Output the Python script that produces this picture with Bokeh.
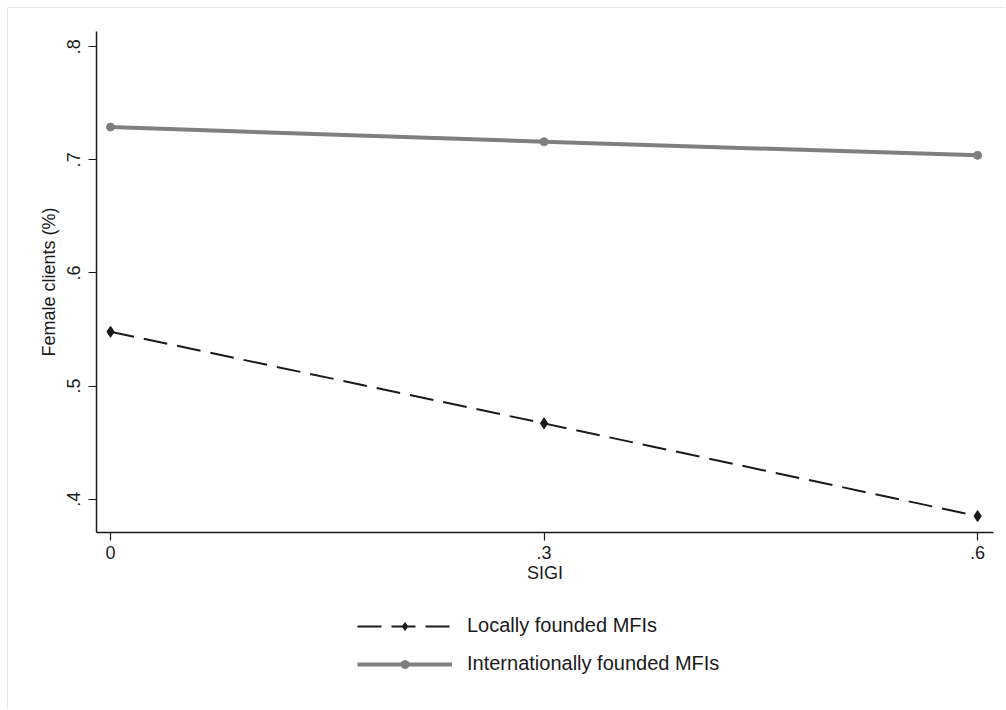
from bokeh.plotting import figure
from bokeh.layouts import column
from bokeh.models import (FixedTicker, CustomJSTickFormatter, Legend, LegendItem, Range1d)
from bokeh.embed import file_html
from bokeh.resources import INLINE

# Data
sigi = [0.0, 0.3, 0.6]
local_vals = [0.548, 0.467, 0.385]
intl_vals = [0.729, 0.716, 0.704]
x_ticks = [0.0, 0.3, 0.6]
y_ticks = [0.4, 0.5, 0.6, 0.7, 0.8]
series_names = ["Locally founded MFIs", "Internationally founded MFIs"]

FONT = "Liberation Sans"
FS = "18px"
LOCAL_STYLE = dict(line_color="#1a1a1a", line_width=2, line_dash="24 10")
LOCAL_MARK = dict(marker="diamond", size=11, color="#1a1a1a")
INTL_STYLE = dict(line_color="#7f7f7f", line_width=4)
INTL_MARK = dict(marker="circle", size=8, color="#7f7f7f")

p = figure(width=998, height=590, output_backend="svg", toolbar_location=None,
           x_range=Range1d(-0.0097, 0.611), y_range=Range1d(0.3705, 0.8135),
           min_border_left=88, min_border_top=23, min_border_right=13,
           min_border_bottom=66)
p.outline_line_color = None
p.xgrid.visible = False
p.ygrid.visible = False

fmt = CustomJSTickFormatter(code="""
var s = (Math.round(tick*10)/10).toString();
return s.replace(/^0\\./, '.');
""")

for ax in (p.xaxis[0], p.yaxis[0]):
    ax.formatter = fmt
    ax.axis_line_color = "#1a1a1a"
    ax.axis_line_width = 1.5
    ax.major_tick_line_color = "#1a1a1a"
    ax.major_tick_line_width = 1.2
    ax.major_tick_in = 0
    ax.major_tick_out = 8
    ax.minor_tick_line_color = None
    ax.major_label_text_font = FONT
    ax.major_label_text_font_size = FS
    ax.major_label_text_color = "#1a1a1a"
    ax.axis_label_text_font = FONT
    ax.axis_label_text_font_size = FS
    ax.axis_label_text_font_style = "normal"
    ax.axis_label_text_color = "#1a1a1a"

p.xaxis.ticker = FixedTicker(ticks=x_ticks)
p.yaxis.ticker = FixedTicker(ticks=y_ticks)
p.xaxis.axis_label = "SIGI"
p.yaxis.axis_label = "Female clients (%)"
p.xaxis.major_label_standoff = 5
p.xaxis.axis_label_standoff = 1
p.yaxis.major_label_orientation = "vertical"
p.yaxis.major_label_standoff = 8
p.yaxis.axis_label_standoff = 6

p.line(sigi, local_vals, **LOCAL_STYLE)
p.scatter(sigi, local_vals, **LOCAL_MARK)
p.line(sigi, intl_vals, **INTL_STYLE)
p.scatter(sigi, intl_vals, **INTL_MARK)

# Legend panel below the plot (its glyph renderers sit outside its visible range)
p2 = figure(width=998, height=112, output_backend="svg", toolbar_location=None,
            x_axis_location=None, y_axis_location=None,
            min_border_left=0, min_border_right=0, min_border_top=0, min_border_bottom=0,
            x_range=Range1d(0, 1), y_range=Range1d(10, 11))
p2.outline_line_color = None
p2.xgrid.visible = False
p2.ygrid.visible = False
l1 = p2.line(sigi, local_vals, **LOCAL_STYLE)
s1 = p2.scatter(sigi, local_vals, marker="diamond", size=10, color="#1a1a1a")
l2 = p2.line(sigi, intl_vals, **INTL_STYLE)
s2 = p2.scatter(sigi, intl_vals, marker="circle", size=6, color="#7f7f7f")

legend = Legend(items=[LegendItem(label=series_names[0], renderers=[l1, s1]),
                       LegendItem(label=series_names[1], renderers=[l2, s2])],
                location=(261, 35), orientation="vertical",
                border_line_color=None, background_fill_alpha=0,
                label_text_font=FONT, label_text_font_size="20px",
                label_text_color="#1a1a1a",
                glyph_width=95, glyph_height=20, label_height=20,
                label_standoff=15, spacing=15, padding=4, margin=0)
p2.add_layout(legend, "center")

layout = column(p, p2, spacing=0, margin=(8, 0, 0, 8))
layout.styles = {"box-shadow": "-1px -1px 0 0 #e3e8ec"}

open("out.html", "w").write(file_html(layout, INLINE))
